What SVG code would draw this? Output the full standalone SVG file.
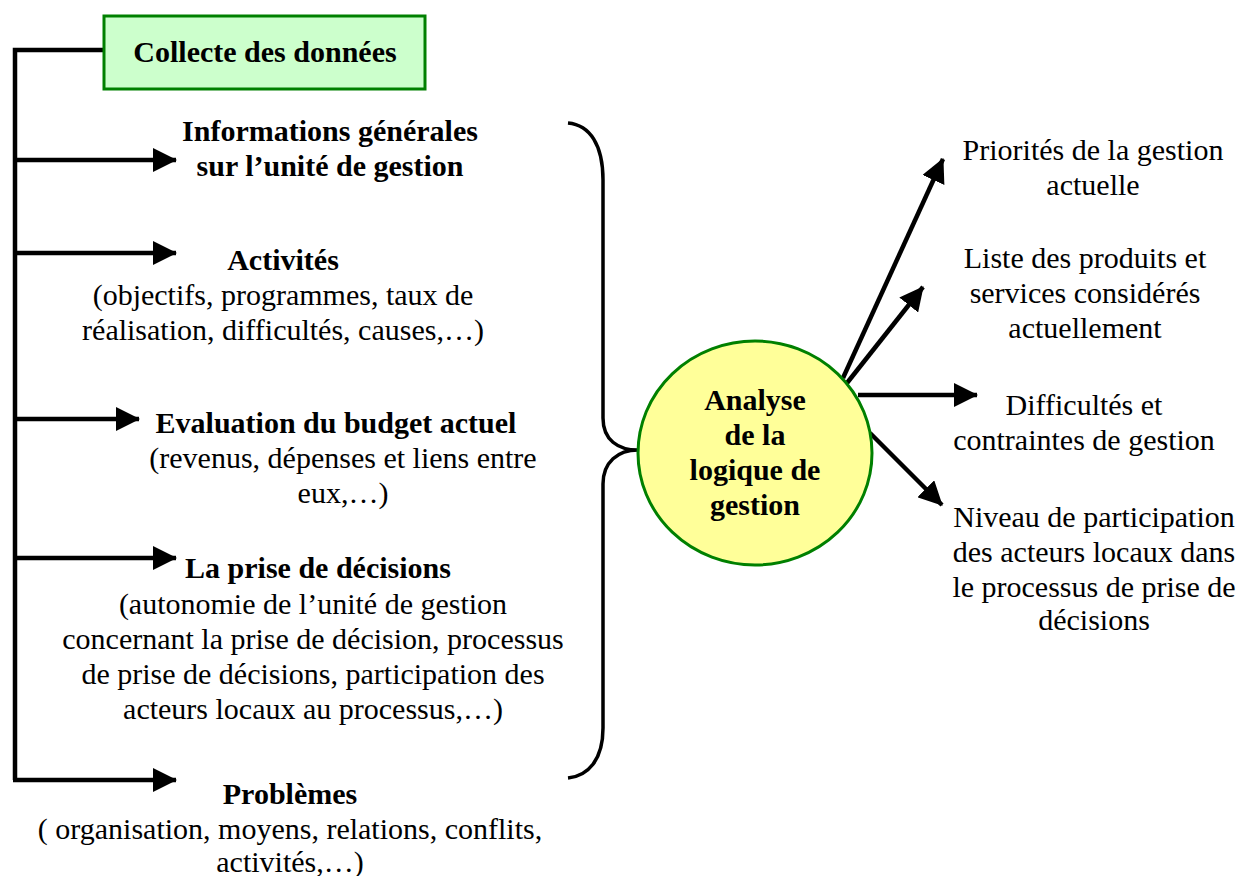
<svg xmlns="http://www.w3.org/2000/svg" width="1236" height="876" viewBox="0 0 1236 876">
<style>
text{font-family:'Liberation Serif','Times New Roman',Times,serif;font-size:30px;fill:#000;text-anchor:middle}
.b{font-weight:bold}
.ln{fill:none;stroke:#000;stroke-width:4.5}
</style>
<defs>
<marker id="ah" viewBox="0 0 24 24" refX="23" refY="12" markerWidth="24" markerHeight="24" markerUnits="userSpaceOnUse" orient="auto">
<path d="M0,0 L24,12 L0,24 Z" fill="#000"/>
</marker>
</defs>
<rect width="1236" height="876" fill="#fff"/>
<g id="connectors">
<path class="ln" d="M103,50 H15 V780"/>
<path class="ln" d="M15,160 H176" marker-end="url(#ah)"/>
<path class="ln" d="M15,253 H176" marker-end="url(#ah)"/>
<path class="ln" d="M15,419 H139" marker-end="url(#ah)"/>
<path class="ln" d="M15,558 H176" marker-end="url(#ah)"/>
<path class="ln" d="M13,780 H176" marker-end="url(#ah)"/>
<path class="ln" style="stroke-width:3.5" d="M568,123 C590,125 603,145 603,180 V418 C603,440 618,450 638,450 C618,450 603,462 603,484 V728 C603,760 588,776 568,778"/>
<path class="ln" d="M843,378 L943,159" marker-end="url(#ah)"/>
<path class="ln" d="M847,383 L923,287" marker-end="url(#ah)"/>
<path class="ln" d="M858,395 L977,395" marker-end="url(#ah)"/>
<path class="ln" d="M870,433 L942,505" marker-end="url(#ah)"/>
</g>
<g id="collecte">
<rect x="104" y="16" width="321" height="73" fill="#ccffcc" stroke="#008000" stroke-width="3"/>
<text class="b" x="265" y="62">Collecte des données</text>
</g>
<g id="informations">
<text class="b" x="330" y="141">Informations générales</text>
<text class="b" x="330" y="176">sur l’unité de gestion</text>
</g>
<g id="activites">
<text class="b" x="283" y="270">Activités</text>
<text x="283" y="305">(objectifs, programmes, taux de</text>
<text x="283" y="340">réalisation, difficultés, causes,…)</text>
</g>
<g id="evaluation">
<text class="b" x="336" y="433">Evaluation du budget actuel</text>
<text x="343" y="468">(revenus, dépenses et liens entre</text>
<text x="343" y="503">eux,…)</text>
</g>
<g id="decisions">
<text class="b" x="318" y="578">La prise de décisions</text>
<text x="313" y="614">(autonomie de l’unité de gestion</text>
<text x="313" y="649">concernant la prise de décision, processus</text>
<text x="313" y="684">de prise de décisions, participation des</text>
<text x="313" y="719">acteurs locaux au processus,…)</text>
</g>
<g id="problemes">
<text class="b" x="290" y="804">Problèmes</text>
<text x="290" y="839">( organisation, moyens, relations, conflits,</text>
<text x="290" y="872">activités,…)</text>
</g>
<g id="analyse">
<ellipse cx="755" cy="453" rx="117" ry="112" fill="#ffff99" stroke="#008000" stroke-width="3"/>
<text class="b" x="755" y="410">Analyse</text>
<text class="b" x="755" y="445">de la</text>
<text class="b" x="755" y="480">logique de</text>
<text class="b" x="755" y="515">gestion</text>
</g>
<g id="priorites">
<text x="1093" y="160">Priorités de la gestion</text>
<text x="1093" y="195">actuelle</text>
</g>
<g id="liste">
<text x="1085" y="268">Liste des produits et</text>
<text x="1085" y="303">services considérés</text>
<text x="1085" y="338">actuellement</text>
</g>
<g id="difficultes">
<text x="1084" y="415">Difficultés et</text>
<text x="1084" y="450">contraintes de gestion</text>
</g>
<g id="niveau">
<text x="1094" y="527">Niveau de participation</text>
<text x="1094" y="562">des acteurs locaux dans</text>
<text x="1094" y="597">le processus de prise de</text>
<text x="1094" y="630">décisions</text>
</g>
</svg>
